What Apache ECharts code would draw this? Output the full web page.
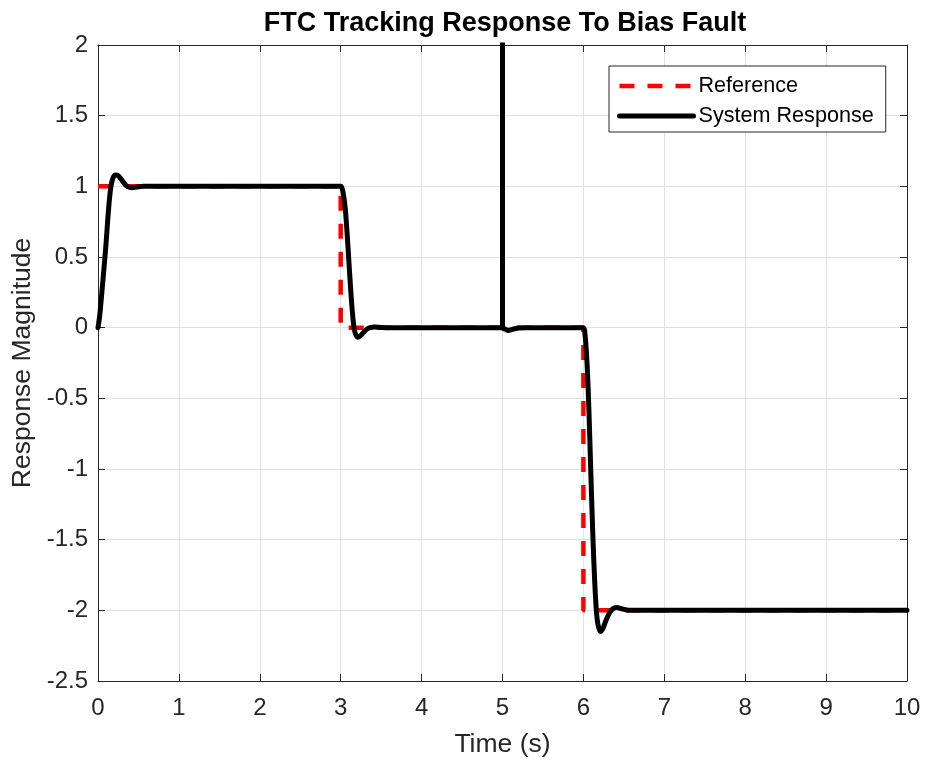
<!DOCTYPE html>
<html>
<head>
<meta charset="utf-8">
<script src="https://cdn.jsdelivr.net/npm/echarts@6/dist/echarts.min.js"></script>
<style>
  html, body { margin: 0; padding: 0; background: #fff; }
  #chart { width: 925px; height: 763px; }
</style>
</head>
<body>
<div id="chart"></div>
<script>
// Reference command: unit step at t=0, back to 0 at t=3, down to -2 at t=6
const refTime  = [0, 3, 3, 6, 6, 10];
const refValue = [1, 1, 0, 0, -2, -2];

// Closed-loop output under the fault-tolerant controller (bias fault injected at t=5)
const respTime = [
  0, 0.02, 0.04, 0.06, 0.08, 0.10, 0.12, 0.14, 0.16, 0.18, 0.20, 0.23, 0.26, 0.30, 0.34, 0.38, 0.42, 0.48, 0.56, 0.70,
  3.0, 3.02, 3.04, 3.06, 3.08, 3.10, 3.12, 3.14, 3.16, 3.18, 3.21, 3.24, 3.28, 3.32, 3.36, 3.42, 3.50, 3.60,
  5.0, 5.0, 5.0, 5.04, 5.07, 5.12, 5.20, 5.30,
  6.0, 6.02, 6.04, 6.06, 6.08, 6.10, 6.12, 6.14, 6.16, 6.18, 6.21, 6.24, 6.28, 6.32, 6.36, 6.41, 6.48, 6.56, 6.70, 10.0
];
const respValue = [
  0, 0.08, 0.20, 0.33, 0.46, 0.60, 0.76, 0.90, 1.00, 1.05, 1.075, 1.08, 1.07, 1.04, 1.01, 0.995, 0.99, 0.995, 1.0, 1.0,
  1.0, 0.98, 0.92, 0.82, 0.66, 0.48, 0.30, 0.14, 0.02, -0.04, -0.068, -0.06, -0.035, -0.012, 0.0, 0.005, 0.002, 0,
  0, 20, 0, -0.012, -0.02, -0.012, -0.003, 0,
  0, -0.05, -0.20, -0.45, -0.80, -1.18, -1.52, -1.80, -2.00, -2.10, -2.15, -2.13, -2.07, -2.02, -1.99, -1.98, -1.99, -2.0, -2.0, -2.0
];

// Axis ranges and tick spacing
const xRange = [0, 10], xStep = 1;
const yRange = [-2.5, 2], yStep = 0.5;

const seriesNames = ['Reference', 'System Response'];

const zip = (xs, ys) => xs.map((x, i) => [x, ys[i]]);

const FONT = 'Liberation Sans, Arial, Helvetica, sans-serif';
const AX = '#262626';
const GRID = '#e1e1e1';

function xAxisDef(pos, main) {
  return {
    type: 'value', position: pos, min: xRange[0], max: xRange[1], interval: xStep,
    axisLine: { show: true, onZero: false, lineStyle: { color: AX, width: 1 } },
    axisTick: { show: true, inside: true, length: 7, lineStyle: { color: AX } },
    axisLabel: { show: main, color: AX, fontSize: 24, fontFamily: FONT, margin: 15 },
    splitLine: { show: main, lineStyle: { color: GRID, width: 1 } },
    name: main ? 'Time (s)' : '', nameLocation: 'middle', nameGap: 50,
    nameTextStyle: { color: AX, fontSize: 26.5, fontFamily: FONT }
  };
}
function yAxisDef(pos, main) {
  return {
    type: 'value', position: pos, min: yRange[0], max: yRange[1], interval: yStep,
    axisLine: { show: true, onZero: false, lineStyle: { color: AX, width: 1 } },
    axisTick: { show: true, inside: true, length: 7, lineStyle: { color: AX } },
    axisLabel: { show: main, color: AX, fontSize: 24, fontFamily: FONT, margin: 10 },
    splitLine: { show: main, lineStyle: { color: GRID, width: 1 } },
    name: main ? 'Response Magnitude' : '', nameLocation: 'middle', nameGap: 61,
    nameTextStyle: { color: AX, fontSize: 26.5, fontFamily: FONT }
  };
}

const chart = echarts.init(document.getElementById('chart'), null, { renderer: 'canvas' });
chart.setOption({
  animation: false,
  backgroundColor: '#ffffff',
  title: {
    text: 'FTC Tracking Response To Bias Fault',
    left: 500, top: 5, textAlign: 'center',
    textStyle: { color: '#000', fontSize: 27, fontWeight: 'bold', fontFamily: FONT }
  },
  grid: { left: 98, right: 18, top: 45, bottom: 80, containLabel: false },
  legend: {
    orient: 'vertical', left: 609, top: 66,
    padding: [9, 12, 5, 8], itemGap: 8,
    itemWidth: 74, itemHeight: 24,
    borderColor: '#262626', borderWidth: 1, backgroundColor: '#fff',
    itemStyle: { opacity: 0 },
    lineStyle: { width: 'inherit' },
    textStyle: { color: '#000', fontSize: 21.6, fontFamily: FONT },
    data: seriesNames
  },
  xAxis: [xAxisDef('bottom', true), xAxisDef('top', false)],
  yAxis: [yAxisDef('left', true), yAxisDef('right', false)],
  series: [
    {
      name: seriesNames[0], type: 'line', data: zip(refTime, refValue),
      showSymbol: false, symbol: 'none', clip: true,
      lineStyle: { color: '#ff0000', width: 4.5, type: [15, 13] },
      itemStyle: { color: '#ff0000' }
    },
    {
      name: seriesNames[1], type: 'line', data: zip(respTime, respValue),
      showSymbol: false, symbol: 'none', clip: true, smooth: 0.3,
      lineStyle: { color: '#000000', width: 5, join: 'round', cap: 'round' },
      itemStyle: { color: '#000000' }
    }
  ]
});
</script>
</body>
</html>
